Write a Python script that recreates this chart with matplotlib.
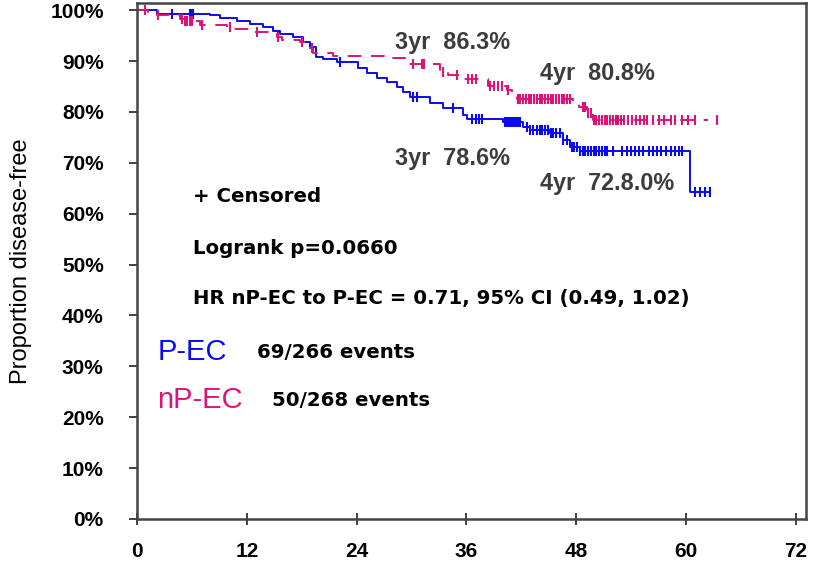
"""Kaplan-Meier style disease-free curves, P-EC vs nP-EC."""

import numpy as np
import matplotlib
matplotlib.use("Agg")
import matplotlib.pyplot as plt

plt.rcParams["font.family"] = ["Liberation Sans", "DejaVu Sans"]

BLUE = "#0a0af0"
PINK = "#dc1478"
GREY_TXT = "#3c3c3c"

# P-EC step curve (months, % disease-free after each drop)
pec_times = [0, 2.2, 8.0, 9.1, 10.9, 12.3, 13.8, 14.9, 15.6, 17.0, 18.1, 18.9, 19.6,
             20.3, 21.8, 24.1, 25.1, 26.2, 27.3, 28.4, 29.1, 29.8, 32.0, 33.4,
             35.6, 36.1, 40.0, 42.2, 42.9, 45.1, 46.5, 47.3, 48.4, 60.4, 62.6]
pec_surv = [100, 99.3, 99.0, 98.5, 97.8, 97.2, 96.7, 95.9, 95.3, 94.7, 93.8, 92.8, 90.8,
            90.4, 89.8, 88.6, 87.6, 86.6, 85.8, 84.9, 83.9, 82.9, 81.8, 80.7,
            79.4, 78.7, 78.0, 77.1, 76.4, 75.8, 74.5, 73.1, 72.4, 64.3, 64.3]
pec_censor = [3.8, 5.8, 5.9, 6.0, 6.1, 22.2, 30.2, 30.6, 34.5, 36.6, 37.0, 37.4, 37.7,
              40.2, 40.4, 40.6, 40.8, 41.0, 41.2, 41.4, 41.6, 41.8, 42.6, 42.9, 43.3,
              43.7, 44.0, 44.3, 44.6, 44.9, 45.2, 45.5, 45.8, 46.2, 46.6, 47.0, 47.5,
              47.8, 48.1, 48.4, 48.7, 49.0, 49.3, 49.6, 49.9, 50.2, 50.5, 50.8, 51.1,
              51.4, 52.0, 53.0, 53.5, 54.0, 54.4, 54.9, 55.3, 55.9, 56.4, 56.8,
              57.3, 57.8, 58.3, 58.8, 59.2, 59.6, 61.0, 61.5, 62.1, 62.6]

# nP-EC step curve
npec_times = [0, 1.2, 2.2, 4.7, 5.2, 6.9, 9.8, 10.5, 12.3, 15.3, 15.8, 17.8, 18.6,
              19.2, 21.4, 27.0, 29.3, 33.1, 34.0, 35.6, 38.3, 40.4, 41.0, 41.5,
              47.6, 48.3, 49.2, 49.8, 62.4]
npec_surv = [100, 99.3, 99.0, 98.3, 97.8, 97.0, 96.7, 96.2, 95.7, 94.8, 94.1, 93.8, 92.5,
             91.6, 90.9, 90.5, 89.5, 87.9, 87.2, 86.5, 85.0, 84.3, 83.6, 82.6,
             81.7, 81.0, 79.7, 78.5, 78.5]
npec_censor = [0.9, 2.3, 4.9, 5.2, 5.5, 5.8, 6.0, 7.1, 10.2, 13.1, 15.4, 18.0, 19.1,
               30.2, 31.1, 31.4, 33.4, 35.0, 36.2, 36.6, 37.0, 38.6, 39.0, 39.5, 39.9,
               40.5, 41.6, 41.9, 42.2, 42.5, 42.8, 43.1, 43.4, 43.7, 44.0, 44.3, 44.6,
               44.9, 45.2, 45.5, 45.8, 46.1, 46.4, 46.7, 47.0, 47.3, 48.7, 49.0, 49.3,
               49.6, 49.9, 50.2, 50.5, 50.8, 51.1, 51.4, 51.7, 52.0, 52.3, 52.6, 52.9,
               53.2, 53.6, 54.1, 54.5, 55.0, 55.4, 55.7, 56.4, 57.0, 57.6, 58.3,
               58.8, 59.5, 60.2, 61.0, 63.4]

x_ticks = [0, 12, 24, 36, 48, 60, 72]
y_ticks = [0, 10, 20, 30, 40, 50, 60, 70, 80, 90, 100]


def censor_y(times, surv, censor):
    idx = np.searchsorted(times, censor, side="right") - 1
    return np.asarray(surv)[idx]


fig = plt.figure(figsize=(8.17, 5.66), dpi=100)
ax = fig.add_axes([137 / 817, 47 / 566, 669 / 817, 516 / 566])

ax.step(pec_times, pec_surv, where="post", color=BLUE, lw=1.4)
ax.plot(pec_censor, censor_y(pec_times, pec_surv, pec_censor), ls="none",
        marker="|", ms=7.5, mew=1.5, color=BLUE)

ax.step(npec_times, npec_surv, where="post", color=PINK, lw=1.4, dashes=(7, 5))
ax.plot(npec_censor, censor_y(npec_times, npec_surv, npec_censor), ls="none",
        marker="|", ms=7.5, mew=1.5, color=PINK)

ax.set_xlim(0, 73.1)
ax.set_ylim(0, 101.4)
ax.set_xticks(x_ticks)
ax.set_yticks(y_ticks)
ax.set_yticklabels([f"{v}%" for v in y_ticks])
for lab in ax.get_xticklabels() + ax.get_yticklabels():
    lab.set_fontweight("bold")
    lab.set_fontsize(15)
ax.tick_params(axis="y", direction="out", length=6, width=1.3, pad=18, color="#333333")
ax.tick_params(axis="x", direction="inout", length=9, width=1.3, pad=12, color="#333333")
for sp in ax.spines.values():
    sp.set_color("#444444")
    sp.set_linewidth(1.8)

ax.set_ylabel("Proportion disease-free", fontsize=17)
ax.yaxis.set_label_coords(-0.157, 0.5)

# survival annotations
note = dict(fontsize=16.8, fontweight="bold", color=GREY_TXT, va="center")
ax.text(28.2, 93.7, "3yr  86.3%", **note)
ax.text(44.0, 87.6, "4yr  80.8%", **note)
ax.text(28.2, 70.9, "3yr  78.6%", **note)
ax.text(44.0, 66.0, "4yr  72.8.0%", **note)

info = dict(fontsize=14.2, fontweight="bold", family="DejaVu Sans", va="center")
ax.text(6.1, 63.3, "+ Censored", **info)
ax.text(6.1, 53.2, "Logrank p=0.0660", **info)
ax.text(6.1, 43.4, "HR nP-EC to P-EC = 0.71, 95% CI (0.49, 1.02)", **info)

ax.text(2.2, 32.8, "P-EC", fontsize=21, color=BLUE, va="center")
ax.text(13.1, 32.8, "69/266 events", **info)
ax.text(2.2, 23.4, "nP-EC", fontsize=21, color=PINK, va="center")
ax.text(14.75, 23.2, "50/268 events", **info)

fig.savefig("out.png", dpi=100)
